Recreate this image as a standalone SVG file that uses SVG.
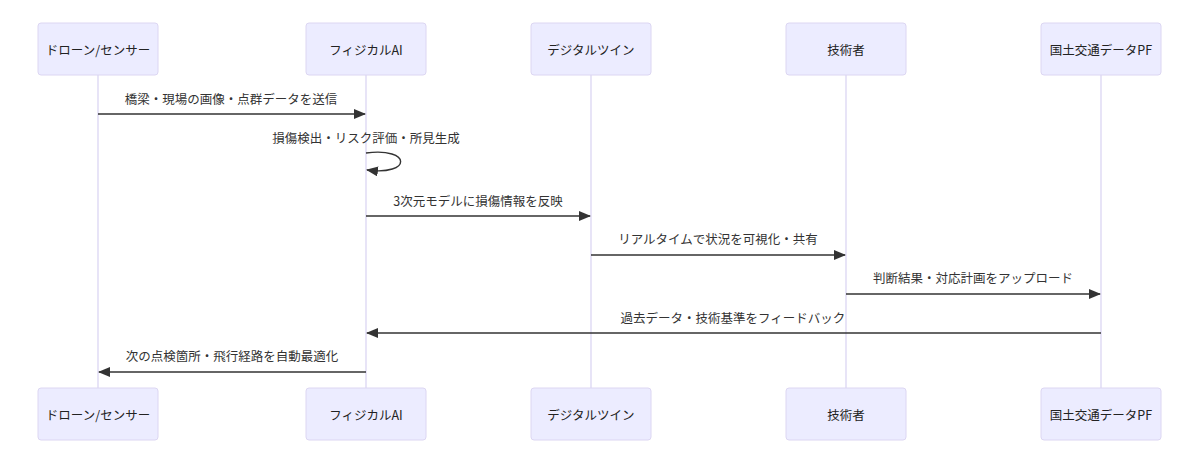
<svg xmlns="http://www.w3.org/2000/svg" width="1200" height="464" viewBox="0 0 1200 464">
<style>
.actor{fill:#ECECFF;stroke:#dcd6f2;stroke-width:1}
.lifeline{stroke:#d8d2f2;stroke-width:1.2}
.atext{font-family:"Noto Sans CJK JP","Liberation Sans",sans-serif;font-size:12.5px;fill:#222;text-anchor:middle;dominant-baseline:central}
.mtext{font-family:"Noto Sans CJK JP","Liberation Sans",sans-serif;font-size:12.5px;fill:#333;text-anchor:middle;dominant-baseline:central}
.msg{stroke:#333;stroke-width:1.4;fill:none}
</style>
<defs>
<marker id="arr" viewBox="0 0 12 10" refX="11" refY="5" markerWidth="12" markerHeight="10" markerUnits="userSpaceOnUse" orient="auto">
<path d="M0,0 L12,5 L0,10 z" fill="#333"/>
</marker>
</defs>
<rect width="1200" height="464" fill="#fff"/>
<g id="lifelines">
<line class="lifeline" x1="98" y1="75" x2="98" y2="388"/>
<line class="lifeline" x1="366" y1="75" x2="366" y2="388"/>
<line class="lifeline" x1="591" y1="75" x2="591" y2="388"/>
<line class="lifeline" x1="846" y1="75" x2="846" y2="388"/>
<line class="lifeline" x1="1101" y1="75" x2="1101" y2="388"/>
</g>
<g id="actor-drone-top"><rect class="actor" x="38" y="23" width="120" height="52" rx="3"/><text class="atext" x="98" y="49">ドローン/センサー</text></g>
<g id="actor-ai-top"><rect class="actor" x="306" y="23" width="120" height="52" rx="3"/><text class="atext" x="366" y="49">フィジカルAI</text></g>
<g id="actor-twin-top"><rect class="actor" x="531" y="23" width="120" height="52" rx="3"/><text class="atext" x="591" y="49">デジタルツイン</text></g>
<g id="actor-eng-top"><rect class="actor" x="786" y="23" width="120" height="52" rx="3"/><text class="atext" x="846" y="49">技術者</text></g>
<g id="actor-pf-top"><rect class="actor" x="1041" y="23" width="120" height="52" rx="3"/><text class="atext" x="1101" y="49">国土交通データPF</text></g>
<g id="actor-drone-bottom"><rect class="actor" x="38" y="388" width="120" height="52" rx="3"/><text class="atext" x="98" y="414">ドローン/センサー</text></g>
<g id="actor-ai-bottom"><rect class="actor" x="306" y="388" width="120" height="52" rx="3"/><text class="atext" x="366" y="414">フィジカルAI</text></g>
<g id="actor-twin-bottom"><rect class="actor" x="531" y="388" width="120" height="52" rx="3"/><text class="atext" x="591" y="414">デジタルツイン</text></g>
<g id="actor-eng-bottom"><rect class="actor" x="786" y="388" width="120" height="52" rx="3"/><text class="atext" x="846" y="414">技術者</text></g>
<g id="actor-pf-bottom"><rect class="actor" x="1041" y="388" width="120" height="52" rx="3"/><text class="atext" x="1101" y="414">国土交通データPF</text></g>
<g id="messages">
<text class="mtext" x="231" y="98">橋梁・現場の画像・点群データを送信</text>
<line class="msg" x1="98" y1="114" x2="365" y2="114" marker-end="url(#arr)"/>
<text class="mtext" x="366" y="137">損傷検出・リスク評価・所見生成</text>
<path class="msg" d="M366,153 C412,147 412,176 367,170" marker-end="url(#arr)"/>
<text class="mtext" x="478" y="200">3次元モデルに損傷情報を反映</text>
<line class="msg" x1="366" y1="216" x2="590" y2="216" marker-end="url(#arr)"/>
<text class="mtext" x="718" y="238">リアルタイムで状況を可視化・共有</text>
<line class="msg" x1="591" y1="255" x2="845" y2="255" marker-end="url(#arr)"/>
<text class="mtext" x="973" y="277">判断結果・対応計画をアップロード</text>
<line class="msg" x1="846" y1="294" x2="1100" y2="294" marker-end="url(#arr)"/>
<text class="mtext" x="733" y="317">過去データ・技術基準をフィードバック</text>
<line class="msg" x1="1101" y1="333" x2="367" y2="333" marker-end="url(#arr)"/>
<text class="mtext" x="232" y="355">次の点検箇所・飛行経路を自動最適化</text>
<line class="msg" x1="366" y1="372" x2="99" y2="372" marker-end="url(#arr)"/>
</g>
</svg>
